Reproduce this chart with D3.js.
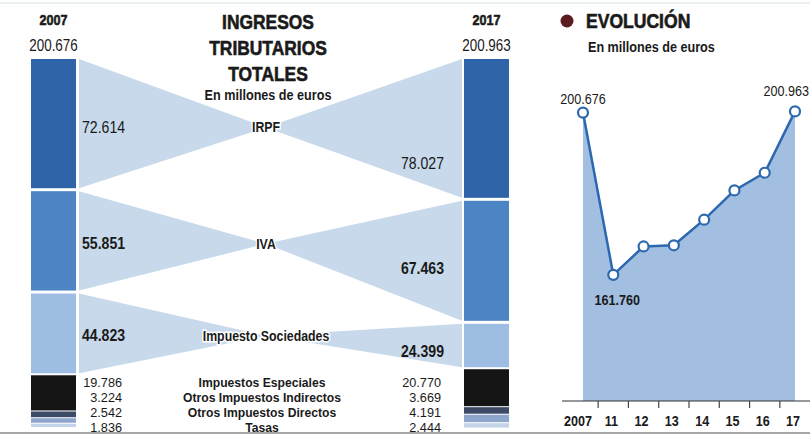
<!DOCTYPE html>
<html>
<head>
<meta charset="utf-8">
<script src="https://cdn.jsdelivr.net/npm/d3@7"></script>
<style>
  body { margin: 0; background: #fff; }
  svg { display: block; }
  text { font-family: "Liberation Sans", Arial, sans-serif; fill: #1a1a1a; }
</style>
</head>
<body>
<svg id="chart" width="810" height="439"></svg>
<script>
// datos del gráfico
const categories = ["IRPF", "IVA", "Impuesto Sociedades", "Impuestos Especiales",
  "Otros Impuestos Indirectos", "Otros Impuestos Directos", "Tasas"];
const values2007 = [72614, 55851, 44823, 19786, 3224, 2542, 1836];
const values2017 = [78027, 67463, 24399, 20770, 3669, 4191, 2444];
const barYears = ["2007", "2017"];
const barTotals = [200676, 200963];

const evoYears = ["2007", "11", "12", "13", "14", "15", "16", "17"];
const evoValues = [200676, 161760, 168567, 168847, 174989, 182009, 186249, 200963];

const segColors = ["#2f64a8", "#4d84c4", "#9ebde2", "#151515", "#3d4a66", "#8ea6cc", "#c3d3e8"];
const ribbonColor = "#c7d9ea";

const es = d3.formatLocale({ decimal: ",", thousands: ".", grouping: [3], currency: ["", "€"] });
const fmt = es.format(",d");

const svg = d3.select("#chart");

// texto "condensado": se estrecha en horizontal
function txt(x, y, s, o = {}) {
  const t = svg.append("text")
    .attr("transform", `translate(${x},${y}) scale(${o.sx || 0.84},1)`)
    .attr("font-size", o.size || 15)
    .attr("font-weight", o.bold ? "bold" : "normal")
    .attr("text-anchor", o.anchor || "start")
    .attr("dy", o.dy || null)
    .attr("fill", o.fill || "#1a1a1a")
    .text(s);
  if (o.halo) t.attr("stroke", "#fff").attr("stroke-width", 3).attr("paint-order", "stroke");
  if (o.heavy) t.attr("stroke", o.fill || "#1a1a1a").attr("stroke-width", 0.6);
  return t;
}

// lineas de marco
svg.append("line").attr("x1", 0).attr("x2", 810).attr("y1", 3).attr("y2", 3)
  .attr("stroke", "#e3eaee").attr("stroke-width", 1.5);
svg.append("line").attr("x1", 0).attr("x2", 810).attr("y1", 433).attr("y2", 433)
  .attr("stroke", "#8a8a8a").attr("stroke-width", 1.5);

// ---- barras apiladas ----
const barTop = 59;
const gaps = [3, 3, 2, 1, 1, 1];
const h = d3.scaleLinear().domain([0, 200676]).range([0, 357]);
const barX = d3.scaleOrdinal().domain(barYears).range([31, 464]);
const barW = 45;

function stack(vals) {
  let y = barTop;
  return vals.map((v, i) => {
    const s = { i, v, y0: y, y1: y + h(v) };
    y = s.y1 + (gaps[i] || 0);
    return s;
  });
}
const segL = stack(values2007);
const segR = stack(values2017);

const cx = 266;
const labelFrac = 0.53;
const rightFrac = [0.75, 0.56, 0.64];

// cintas (solo las tres mayores)
const ribbons = svg.append("g");
d3.range(3).forEach(i => {
  const L = segL[i], R = segR[i];
  const ay = L.y0 + (L.y1 - L.y0) * labelFrac;
  const xl = barX("2007") + barW + 3, xr = barX("2017") - 2;
  ribbons.append("path")
    .attr("d", `M${xl},${L.y0}L${cx},${ay}L${xl},${L.y1}Z`)
    .attr("fill", ribbonColor);
  ribbons.append("path")
    .attr("d", `M${xr},${R.y0}L${cx},${ay}L${xr},${R.y1}Z`)
    .attr("fill", ribbonColor);
});

[[segL, "2007"], [segR, "2017"]].forEach(([segs, yr]) => {
  svg.append("g").selectAll("rect").data(segs).join("rect")
    .attr("x", barX(yr))
    .attr("y", d => d.y0)
    .attr("width", barW)
    .attr("height", d => d.y1 - d.y0)
    .attr("fill", d => segColors[d.i]);
});

// cabeceras de barras
barYears.forEach((yr, k) => {
  const mx = barX(yr) + barW / 2;
  txt(mx, 25, yr, { size: 15, bold: true, anchor: "middle", heavy: true });
  txt(mx, 51, fmt(barTotals[k]), { size: 16, anchor: "middle" });
});

// título central
["INGRESOS", "TRIBUTARIOS", "TOTALES"].forEach((t, k) => {
  txt(268, 29 + k * 26, t, { size: 20, bold: true, anchor: "middle", sx: 0.87, heavy: true });
});
txt(268, 100, "En millones de euros", { size: 14.5, bold: true, anchor: "middle", sx: 0.87 });

// etiquetas de las tres mayores
d3.range(3).forEach(i => {
  const L = segL[i], R = segR[i];
  const ay = L.y0 + (L.y1 - L.y0) * labelFrac;
  txt(82, ay, fmt(values2007[i]), { size: 16, dy: "0.35em", bold: i > 0, fill: "#2a2a3a", sx: 0.88 });
  txt(444, R.y0 + (R.y1 - R.y0) * rightFrac[i], fmt(values2017[i]),
    { size: 16, dy: "0.35em", bold: i > 0, anchor: "end", fill: "#2a2a3a", sx: 0.88 });
  txt(cx, ay, categories[i], { size: 14, dy: "0.35em", bold: true, anchor: "middle", halo: true, sx: 0.88 });
});

// filas inferiores
d3.range(3, 7).forEach((i, k) => {
  const y = 382 + k * 15;
  txt(122, y, fmt(values2007[i]), { size: 13.5, dy: "0.35em", anchor: "end", sx: 0.94 });
  txt(441, y, fmt(values2017[i]), { size: 13.5, dy: "0.35em", anchor: "end", sx: 0.94 });
  txt(262, y, categories[i], { size: 13.5, dy: "0.35em", bold: true, anchor: "middle", sx: 0.9 });
});

// ---- evolución ----
svg.append("circle").attr("cx", 567).attr("cy", 21).attr("r", 6.5).attr("fill", "#5b1c1f");
txt(586, 28, "EVOLUCIÓN", { size: 19.5, bold: true, sx: 0.9, heavy: true });
txt(588, 52, "En millones de euros", { size: 14.5, bold: true, sx: 0.87 });

const x = d3.scalePoint().domain(evoYears).range([583, 795]);
const y = d3.scaleLinear().domain([131500, 200820]).range([401, 112]);

const area = d3.area().x((d, i) => x(evoYears[i])).y0(401).y1(d => y(d));
const line = d3.line().x((d, i) => x(evoYears[i])).y(d => y(d));

svg.append("path").datum(evoValues).attr("d", area).attr("fill", "#a2bfe2");
svg.append("path").datum(evoValues).attr("d", line).attr("fill", "none")
  .attr("stroke", "#2c68ae").attr("stroke-width", 2.5);
svg.append("g").selectAll("circle").data(evoValues).join("circle")
  .attr("cx", (d, i) => x(evoYears[i])).attr("cy", d => y(d)).attr("r", 5)
  .attr("fill", "#fff").attr("stroke", "#2c68ae").attr("stroke-width", 2.2);

// eje
const axisY = 401;
svg.append("line").attr("x1", 562).attr("x2", 810).attr("y1", axisY).attr("y2", axisY)
  .attr("stroke", "#333").attr("stroke-width", 1.2);
const step = x.step();
svg.append("g").selectAll("line").data(evoYears.slice(0, -1)).join("line")
  .attr("x1", d => x(d) + step / 2).attr("x2", d => x(d) + step / 2)
  .attr("y1", axisY).attr("y2", axisY + 7).attr("stroke", "#444").attr("stroke-width", 1.2);
evoYears.forEach((d, i) => {
  txt(x(d) + (i === 0 ? -5 : -2), 426, d, { size: 15, bold: true, anchor: "middle" });
});

// etiquetas de puntos
txt(x("2007"), 104, fmt(evoValues[0]), { size: 15, anchor: "middle" });
txt(809, 96, fmt(evoValues[7]), { size: 15, anchor: "end" });
txt(x("11") + 4, 305, fmt(evoValues[1]), { size: 15, bold: true, anchor: "middle" });
</script>
</body>
</html>
